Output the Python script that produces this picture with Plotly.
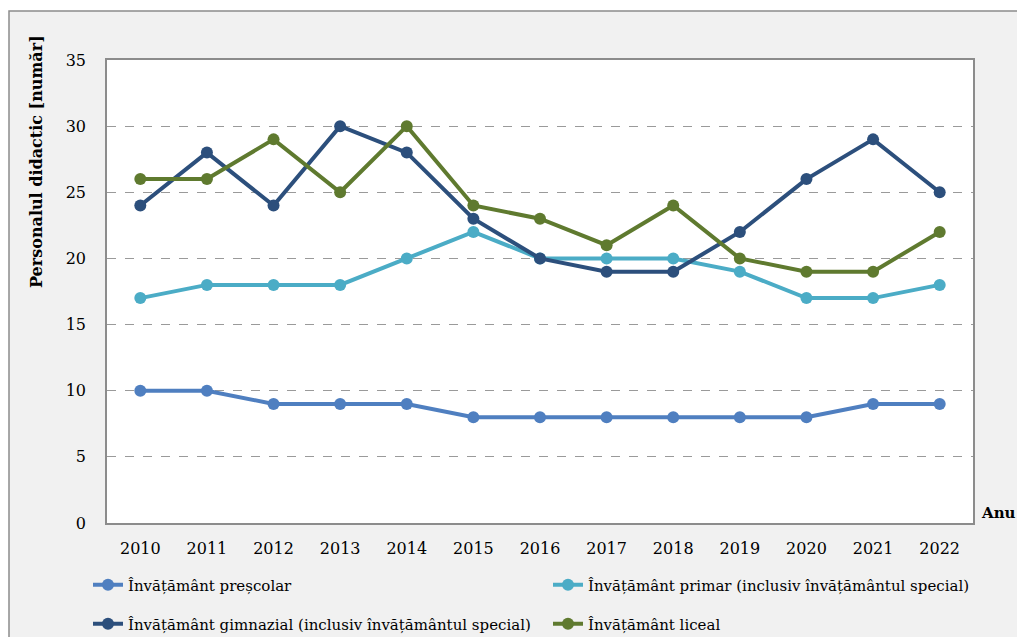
import plotly.graph_objects as go

years = ["2010", "2011", "2012", "2013", "2014", "2015", "2016", "2017", "2018", "2019", "2020", "2021", "2022"]
prescolar = [10, 10, 9, 9, 9, 8, 8, 8, 8, 8, 8, 9, 9]
primar = [17, 18, 18, 18, 20, 22, 20, 20, 20, 19, 17, 17, 18]
gimnazial = [24, 28, 24, 30, 28, 23, 20, 19, 19, 22, 26, 29, 25]
liceal = [26, 26, 29, 25, 30, 24, 23, 21, 24, 20, 19, 19, 22]

names = [
    "Învățământ preșcolar",
    "Învățământ primar (inclusiv învățământul special)",
    "Învățământ gimnazial (inclusiv învățământul special)",
    "Învățământ liceal",
]
colors = ["#4f7fc0", "#4bacc6", "#2c4f7c", "#5f7a2f"]
series = [prescolar, primar, gimnazial, liceal]
legends = ["legend", "legend", "legend2", "legend2"]

FONT = "DejaVu Serif"
W, H = 1017, 637
L, R, T, B = 107, 44, 60, 114
pw, ph = W - L - R, H - T - B

def px(x):
    return (x - L) / pw

def py(y):
    return (H - B - y) / ph

fig = go.Figure()
for n, c, s, lg in zip(names, colors, series, legends):
    fig.add_trace(go.Scatter(
        x=years, y=s, name=n, mode="lines+markers",
        line=dict(color=c, width=4),
        marker=dict(color=c, size=12),
        legend=lg,
    ))

leg_common = dict(orientation="h", xanchor="left", yanchor="middle",
                  entrywidth=415, entrywidthmode="pixels", bgcolor="rgba(0,0,0,0)",
                  font=dict(family=FONT, size=15), traceorder="normal")

fig.update_layout(
    width=W, height=H,
    margin=dict(l=L, r=R, t=T, b=B, autoexpand=False),
    paper_bgcolor="white",
    plot_bgcolor="white",
    font=dict(family=FONT, size=15, color="black"),
    showlegend=True,
    legend=dict(x=px(88), y=py(585), **leg_common),
    legend2=dict(x=px(88), y=py(624), **leg_common),
    xaxis=dict(type="category", range=[-0.5, 12.5], showgrid=False,
               showline=True, linecolor="#8c8c8c", linewidth=1.5, mirror=True,
               ticks="", tickfont=dict(family=FONT, size=16), ticklabelstandoff=10,
               zeroline=False),
    yaxis=dict(range=[0, 35], dtick=5, showgrid=True, gridcolor="#9a9a9a",
               griddash="dash", gridwidth=1,
               showline=True, linecolor="#8c8c8c", linewidth=1.5, mirror=True,
               ticks="", tickfont=dict(family=FONT, size=16), ticklabelstandoff=16,
               zeroline=False),
    shapes=[
        dict(type="rect", xref="paper", yref="paper",
             x0=px(9), x1=px(1100), y0=py(700), y1=py(11),
             fillcolor="#f1f1f1", line=dict(color="#8c8c8c", width=1.5),
             layer="below"),
        dict(type="rect", xref="paper", yref="paper",
             x0=0, x1=1, y0=0, y1=1,
             fillcolor="white", line=dict(width=0),
             layer="below"),
    ],
    annotations=[
        dict(text="<b>Personalul didactic [număr]</b>", xref="paper", yref="paper",
             x=px(36), y=py(162), textangle=-90, showarrow=False,
             xanchor="center", yanchor="middle", font=dict(family=FONT, size=16)),
        dict(text="<b>Anu</b>", xref="paper", yref="paper",
             x=px(979), y=py(513), showarrow=False,
             xanchor="left", yanchor="middle", font=dict(family=FONT, size=15)),
    ],
)

fig.write_html("out.html", config={"displayModeBar": False},
               post_script="document.body.style.margin='0';")
